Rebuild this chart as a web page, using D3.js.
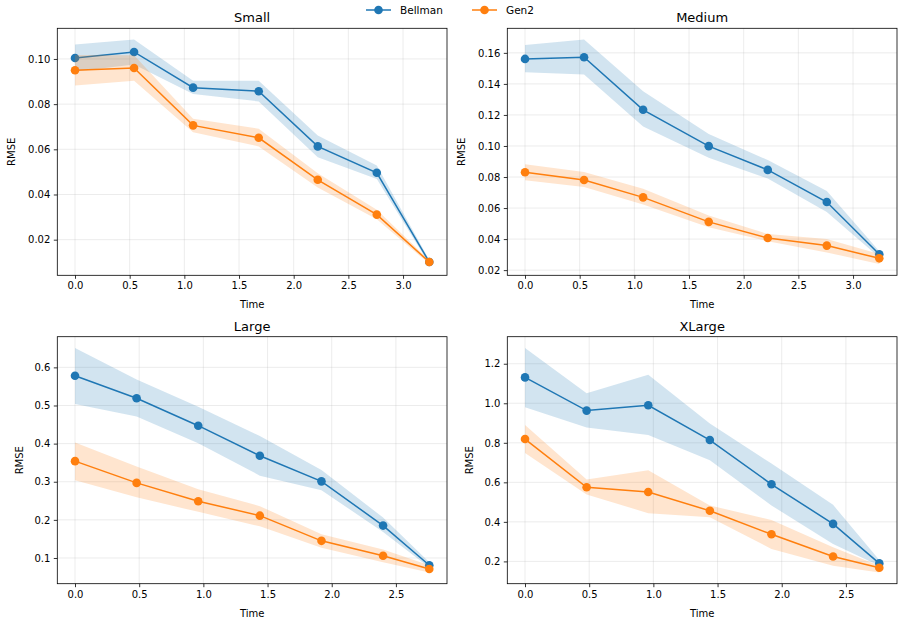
<!DOCTYPE html>
<html>
<head>
<meta charset="utf-8">
<script src="https://cdn.jsdelivr.net/npm/d3@7"></script>
<style>
    body { margin: 0; background: #fff; }
    svg { display: block; font-family: "DejaVu Sans", sans-serif; }
    .tick text { font-size: 10px; fill: #000; }
</style>
</head>
<body>
<div id="chart"></div>
<script>
// ---- data ----
const seriesNames = ['Bellman', 'Gen2'];
const seriesColors = ['#1f77b4', '#ff7f0e'];

const timeShort = [0, 0.48, 0.96, 1.44, 1.92, 2.40, 2.76];
const timeLong = [0, 0.54, 1.08, 1.68, 2.22, 2.76, 3.24];

const smallBellman   = [0.1004, 0.1031, 0.0873, 0.0857, 0.0613, 0.0496, 0.0101];
const smallBellmanLo = [0.0944, 0.0976, 0.0845, 0.0812, 0.0565, 0.0469, 0.0092];
const smallBellmanHi = [0.1064, 0.1086, 0.0904, 0.0904, 0.0661, 0.0528, 0.0110];
const smallGen2      = [0.0950, 0.0960, 0.0706, 0.0651, 0.0465, 0.0311, 0.0101];
const smallGen2Lo    = [0.0882, 0.0904, 0.0675, 0.0613, 0.0431, 0.0290, 0.0093];
const smallGen2Hi    = [0.1018, 0.1016, 0.0735, 0.0691, 0.0494, 0.0332, 0.0109];

const mediumBellman   = [0.1561, 0.1572, 0.1233, 0.0999, 0.0846, 0.0639, 0.0302];
const mediumBellmanLo = [0.1475, 0.1460, 0.1125, 0.0924, 0.0790, 0.0574, 0.0282];
const mediumBellmanHi = [0.1650, 0.1686, 0.1352, 0.1077, 0.0909, 0.0710, 0.0321];
const mediumGen2      = [0.0831, 0.0781, 0.0669, 0.0511, 0.0407, 0.0358, 0.0276];
const mediumGen2Lo    = [0.0779, 0.0736, 0.0623, 0.0477, 0.0386, 0.0314, 0.0239];
const mediumGen2Hi    = [0.0883, 0.0833, 0.0725, 0.0552, 0.0433, 0.0401, 0.0304];

const largeBellman   = [0.578, 0.519, 0.447, 0.368, 0.301, 0.185, 0.081];
const largeBellmanLo = [0.504, 0.471, 0.401, 0.316, 0.278, 0.168, 0.075];
const largeBellmanHi = [0.651, 0.568, 0.497, 0.420, 0.331, 0.206, 0.089];
const largeGen2      = [0.354, 0.297, 0.249, 0.211, 0.145, 0.106, 0.071];
const largeGen2Lo    = [0.304, 0.259, 0.221, 0.183, 0.127, 0.089, 0.062];
const largeGen2Hi    = [0.403, 0.340, 0.280, 0.236, 0.162, 0.122, 0.081];

const xlargeBellman   = [1.131, 0.963, 0.990, 0.814, 0.590, 0.390, 0.190];
const xlargeBellmanLo = [0.980, 0.878, 0.839, 0.712, 0.483, 0.288, 0.178];
const xlargeBellmanHi = [1.280, 1.051, 1.144, 0.898, 0.695, 0.486, 0.207];
const xlargeGen2      = [0.819, 0.575, 0.551, 0.456, 0.337, 0.225, 0.168];
const xlargeGen2Lo    = [0.749, 0.539, 0.444, 0.424, 0.263, 0.178, 0.144];
const xlargeGen2Hi    = [0.890, 0.614, 0.661, 0.483, 0.410, 0.271, 0.178];

const xTicksLong = ['0.0', '0.5', '1.0', '1.5', '2.0', '2.5', '3.0'];
const xTicksShort = ['0.0', '0.5', '1.0', '1.5', '2.0', '2.5'];
const yTicksSmall = ['0.02', '0.04', '0.06', '0.08', '0.10'];
const yTicksMedium = ['0.02', '0.04', '0.06', '0.08', '0.10', '0.12', '0.14', '0.16'];
const yTicksLarge = ['0.1', '0.2', '0.3', '0.4', '0.5', '0.6'];
const yTicksXLarge = ['0.2', '0.4', '0.6', '0.8', '1.0', '1.2'];

const panels = [
    { title: 'Small', time: timeLong, xTicks: xTicksLong, yTicks: yTicksSmall,
      series: [[smallBellman, smallBellmanLo, smallBellmanHi], [smallGen2, smallGen2Lo, smallGen2Hi]] },
    { title: 'Medium', time: timeLong, xTicks: xTicksLong, yTicks: yTicksMedium,
      series: [[mediumBellman, mediumBellmanLo, mediumBellmanHi], [mediumGen2, mediumGen2Lo, mediumGen2Hi]] },
    { title: 'Large', time: timeShort, xTicks: xTicksShort, yTicks: yTicksLarge,
      series: [[largeBellman, largeBellmanLo, largeBellmanHi], [largeGen2, largeGen2Lo, largeGen2Hi]] },
    { title: 'XLarge', time: timeShort, xTicks: xTicksShort, yTicks: yTicksXLarge,
      series: [[xlargeBellman, xlargeBellmanLo, xlargeBellmanHi], [xlargeGen2, xlargeGen2Lo, xlargeGen2Hi]] }
];

// ---- layout ----
const width = 905, height = 624;
const colLeft = [57.3, 507.3], rowTop = [28.3, 336.7];
const axW = 389.7, axH = 247;

const svg = d3.select('#chart').append('svg')
    .attr('width', width)
    .attr('height', height);

// matplotlib style 5% margins
function padded(ext) {
    const pad = (ext[1] - ext[0]) * 0.05;
    return [ext[0] - pad, ext[1] + pad];
}

panels.forEach((p, i) => {
    const g = svg.append('g')
        .attr('transform', 'translate(' + colLeft[i % 2] + ',' + rowTop[Math.floor(i / 2)] + ')');

    const x = d3.scaleLinear()
        .domain(padded(d3.extent(p.time)))
        .range([0, axW]);

    const allY = p.series.flatMap(s => s[1].concat(s[2]));
    const y = d3.scaleLinear()
        .domain(padded(d3.extent(allY)))
        .range([axH, 0]);

    const xVals = p.xTicks.map(Number);
    const yVals = p.yTicks.map(Number);

    // grid
    g.append('g').selectAll('line.gx')
        .data(xVals)
        .join('line')
            .attr('x1', d => x(d)).attr('x2', d => x(d))
            .attr('y1', 0).attr('y2', axH)
            .attr('stroke', '#b0b0b0').attr('stroke-opacity', 0.3).attr('stroke-width', 0.8);
    g.append('g').selectAll('line.gy')
        .data(yVals)
        .join('line')
            .attr('x1', 0).attr('x2', axW)
            .attr('y1', d => y(d)).attr('y2', d => y(d))
            .attr('stroke', '#b0b0b0').attr('stroke-opacity', 0.3).attr('stroke-width', 0.8);

    // bands and lines
    p.series.forEach((s, k) => {
        const rows = p.time.map((t, j) => ({ t: t, m: s[0][j], lo: s[1][j], hi: s[2][j] }));
        const color = seriesColors[k];

        g.append('path')
            .datum(rows)
            .attr('fill', color)
            .attr('fill-opacity', 0.2)
            .attr('d', d3.area().x(d => x(d.t)).y0(d => y(d.lo)).y1(d => y(d.hi)));

        g.append('path')
            .datum(rows)
            .attr('fill', 'none')
            .attr('stroke', color)
            .attr('stroke-width', 1.5)
            .attr('d', d3.line().x(d => x(d.t)).y(d => y(d.m)));

        g.append('g').selectAll('circle')
            .data(rows)
            .join('circle')
                .attr('cx', d => x(d.t))
                .attr('cy', d => y(d.m))
                .attr('r', 4.3)
                .attr('fill', color);
    });

    // axes
    const xAxis = g.append('g')
        .attr('transform', 'translate(0,' + axH + ')')
        .call(d3.axisBottom(x).tickValues(xVals).tickFormat((d, j) => p.xTicks[j])
            .tickSize(3.5).tickPadding(3.5).tickSizeOuter(0));
    const yAxis = g.append('g')
        .call(d3.axisLeft(y).tickValues(yVals).tickFormat((d, j) => p.yTicks[j])
            .tickSize(3.5).tickPadding(3.5).tickSizeOuter(0));
    [xAxis, yAxis].forEach(a => {
        a.select('.domain').remove();
        a.selectAll('.tick line').attr('stroke', '#000').attr('stroke-width', 0.8);
        a.attr('font-family', null).attr('font-size', null);
    });

    g.append('rect')
        .attr('width', axW).attr('height', axH)
        .attr('fill', 'none').attr('stroke', '#000').attr('stroke-width', 0.8);

    g.append('text')
        .attr('x', axW / 2).attr('y', -6)
        .attr('text-anchor', 'middle')
        .attr('font-size', 13)
        .text(p.title);

    g.append('text')
        .attr('x', axW / 2).attr('y', axH + 33)
        .attr('text-anchor', 'middle')
        .attr('font-size', 10)
        .text('Time');

    const labelX = i >= 2 ? -34 : -42;
    g.append('text')
        .attr('transform', 'translate(' + labelX + ',' + (axH / 2) + ') rotate(-90)')
        .attr('text-anchor', 'middle')
        .attr('font-size', 10)
        .text('RMSE');
});

// legend
const legendX = [366, 472];
const legend = svg.append('g').selectAll('g')
    .data(seriesNames)
    .join('g')
        .attr('transform', (d, k) => 'translate(' + legendX[k] + ',10)');
legend.append('line')
    .attr('x1', 0).attr('x2', 25)
    .attr('stroke', (d, k) => seriesColors[k])
    .attr('stroke-width', 1.5);
legend.append('circle')
    .attr('cx', 12.5).attr('r', 4.3)
    .attr('fill', (d, k) => seriesColors[k]);
legend.append('text')
    .attr('x', 34).attr('y', 3.8)
    .attr('font-size', 10.5)
    .text(d => d);
</script>
</body>
</html>
